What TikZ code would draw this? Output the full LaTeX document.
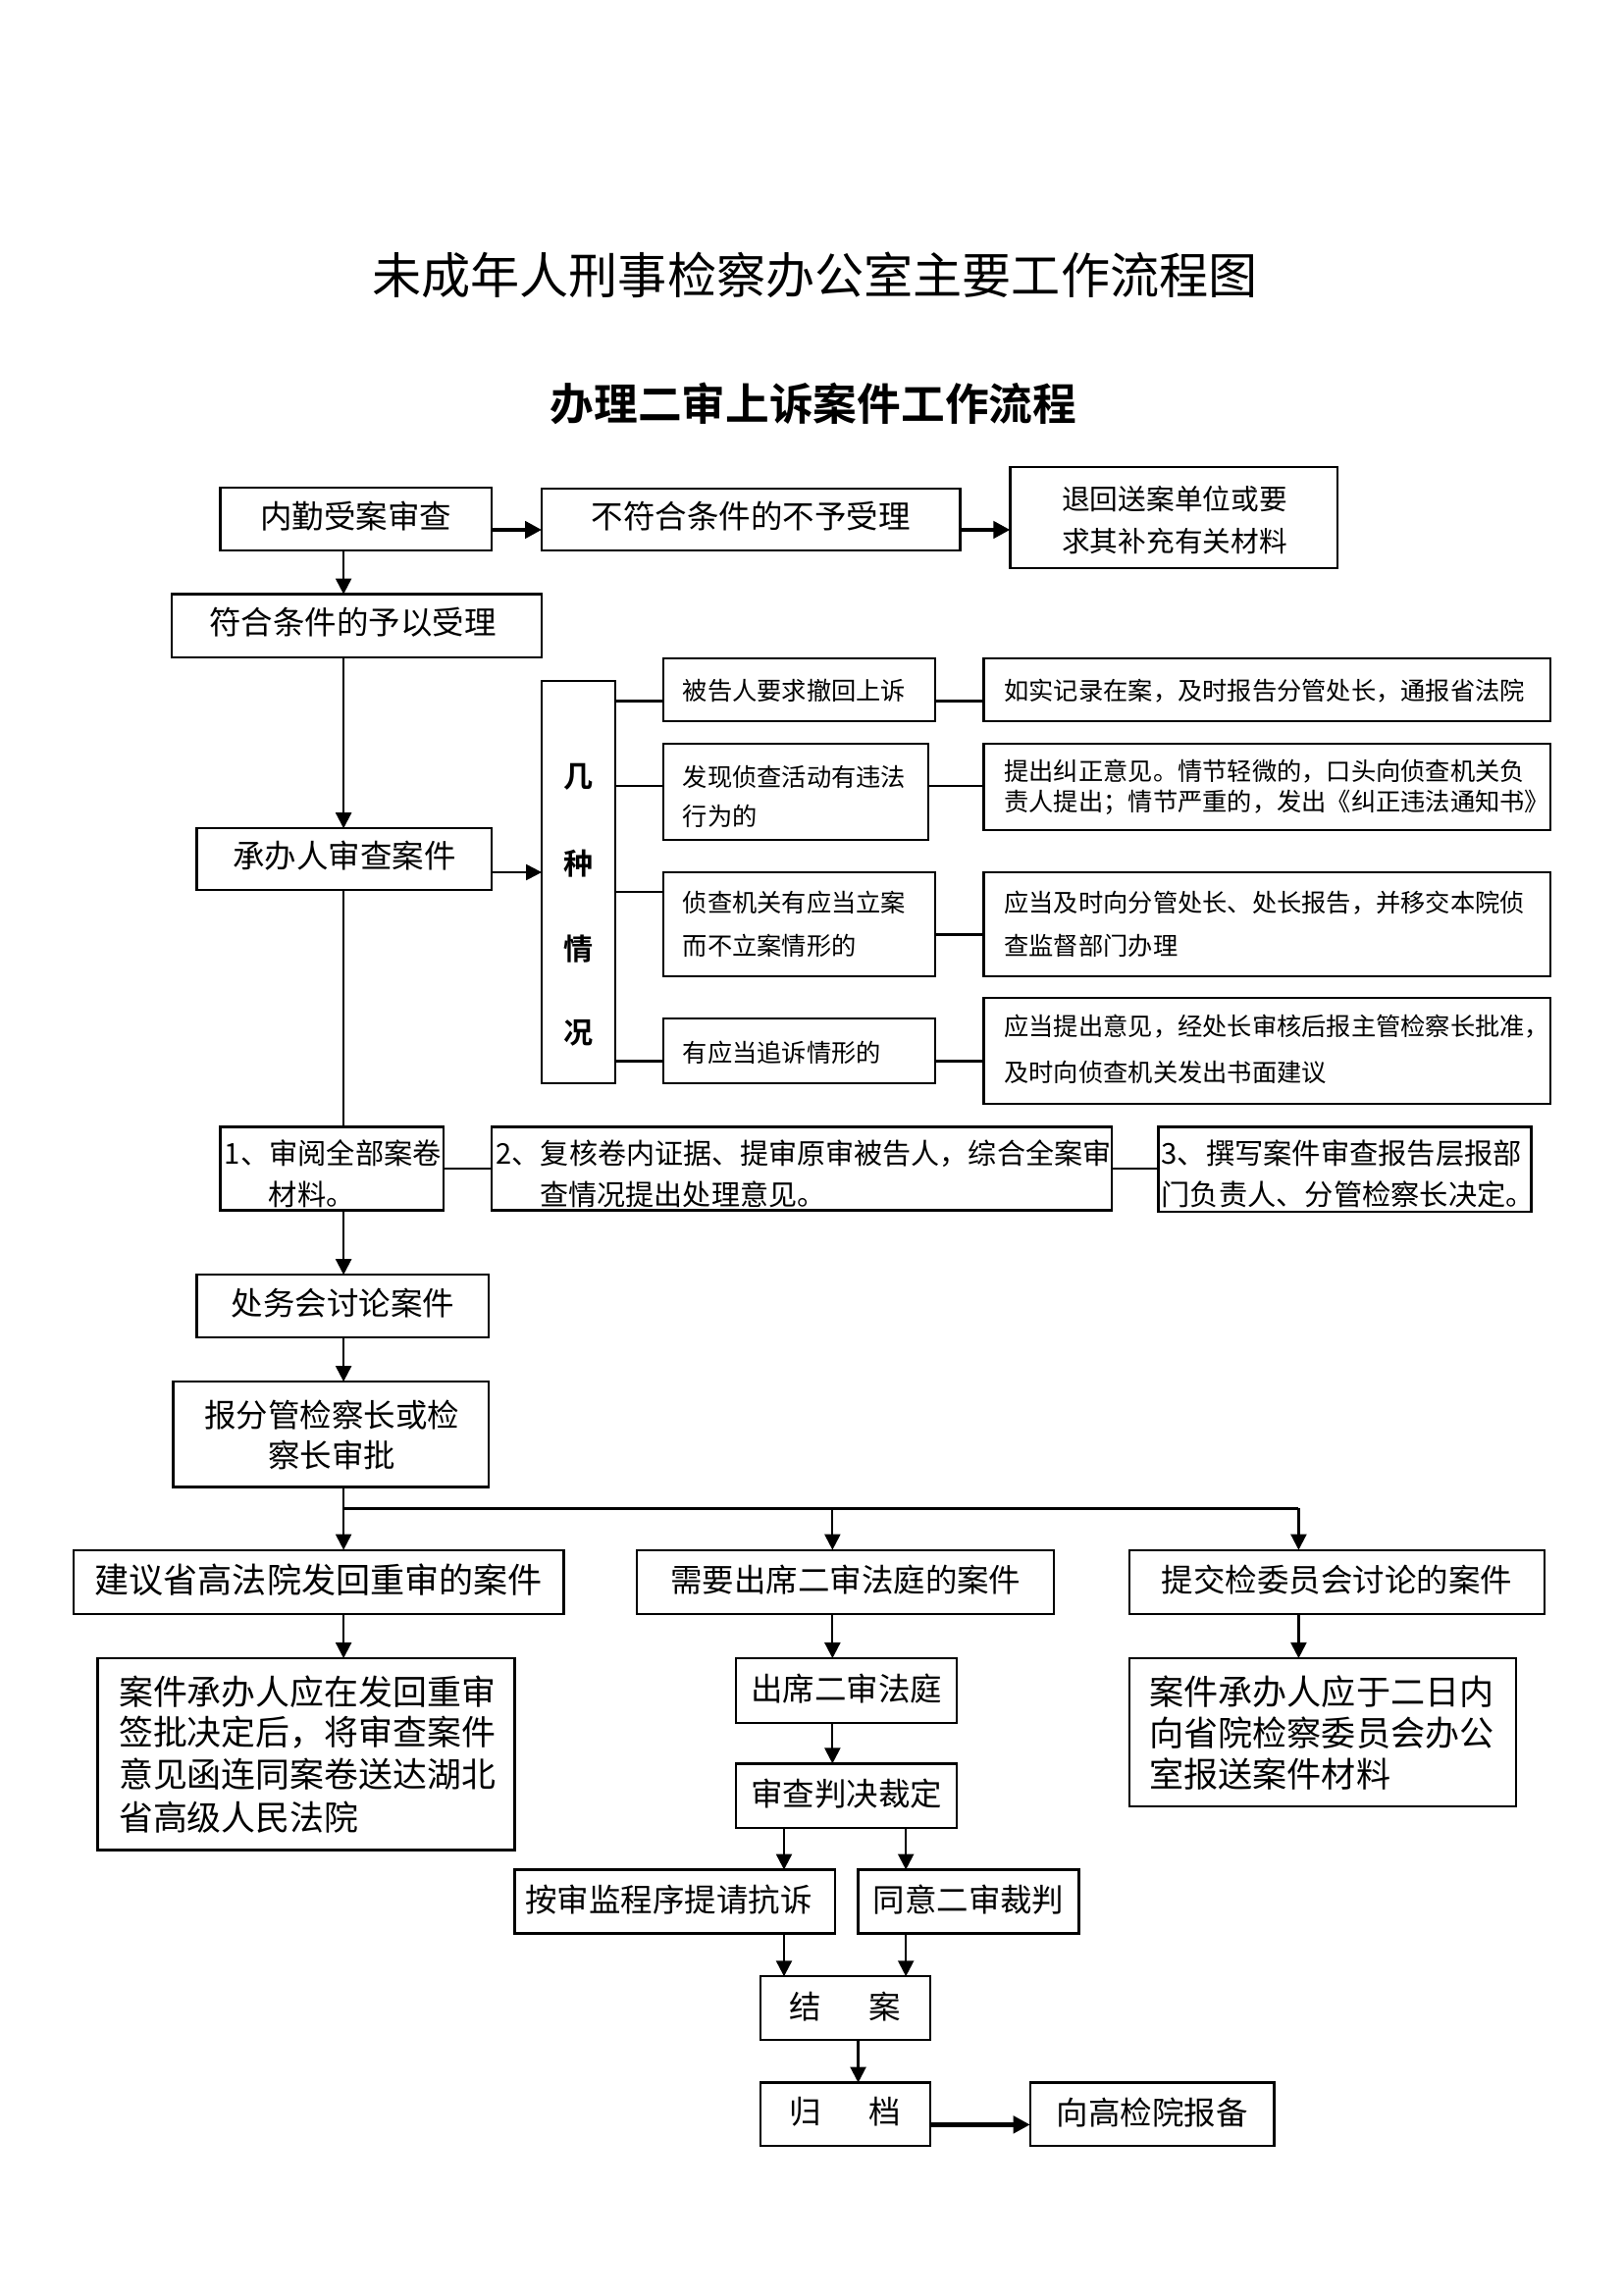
\documentclass[tikz,border=0pt]{standalone}
\usepackage{fontspec}
\setmainfont{Noto Sans CJK SC}[BoldFont={Noto Sans CJK SC Bold}]
\usetikzlibrary{arrows.meta,fit}
\newcommand\myfs[1]{\fontsize{#1}{#1}\selectfont}
\begin{document}
\begin{tikzpicture}[x=0.7463pt,y=-0.744pt,
  box/.style={draw,line width=1.1pt,inner sep=0pt,outer sep=0pt},
  tx/.style={inner sep=0pt,outer sep=0pt},
  lt/.style={tx,anchor=west},
  ln/.style={line width=1.1pt},
  tln/.style={line width=1.3pt},
  arr/.style={line width=1.1pt,-{Triangle[length=8pt,width=8pt]}},
  tarr/.style={line width=2.2pt,-{Triangle[length=8.5pt,width=8.5pt]}},
  f16/.style={font=\myfs{16.2}},
  fsm/.style={font=\myfs{12.6}}]
\useasboundingbox (0,0) rectangle (1105.5,1568.1);

% titles
\node[tx,font=\myfs{25}] (title) at (555,188) {未成年人刑事检察办公室主要工作流程图};
\node[tx,font=\bfseries\myfs{22.3}] (sub) at (554,276) {办理二审上诉案件工作流程};

% top part
\node[box,fit={(150,333)(335,376)}] (A) {};
\node[tx,f16] (At) at ([yshift=1.5pt]A.center) {内勤受案审查};
\node[box,fit={(369,334)(654,376)}] (B) {};
\node[tx,f16] (Bt) at ([yshift=1.5pt]B.center) {不符合条件的不予受理};
\node[box,fit={(688,319)(911,388)}] (C) {};
\node[tx,font=\myfs{14.3}] (C1) at (800,341) {退回送案单位或要};
\node[tx,font=\myfs{14.3}] (C2) at (800,370) {求其补充有关材料};
\node[box,fit={(117,406)(369,449)}] (D) {};
\node[tx,f16] (Dt) at ([yshift=1.5pt,xshift=-2pt]D.center) {符合条件的予以受理};
\node[box,fit={(134,566)(335,608)}] (E) {};
\node[tx,f16] (Et) at ([yshift=1.5pt]E.center) {承办人审查案件};

% several situations
\node[box,fit={(369,465)(419,740)}] (F) {};
\node[tx,font=\bfseries\myfs{15}] (F1) at (394,531) {几};
\node[tx,font=\bfseries\myfs{15}] (F2) at (394,590) {种};
\node[tx,font=\bfseries\myfs{15}] (F3) at (394,648) {情};
\node[tx,font=\bfseries\myfs{15}] (F4) at (394,706) {况};

\node[box,fit={(452,450)(637,493)}] (L1) {};
\node[lt,fsm] (L1a) at (465,472) {被告人要求撤回上诉};
\node[box,fit={(670,450)(1056,493)}] (R1) {};
\node[lt,fsm] (R1a) at (684,472) {如实记录在案，及时报告分管处长，通报省法院};

\node[box,fit={(452,508)(632,574)}] (L2) {};
\node[lt,fsm] (L2a) at (465,531) {发现侦查活动有违法};
\node[lt,fsm] (L2b) at (465,558) {行为的};
\node[box,fit={(670,508)(1056,567)}] (R2) {};
\node[lt,fsm] (R2a) at (684,527) {提出纠正意见。情节轻微的，口头向侦查机关负};
\node[lt,fsm] (R2b) at (684,548) {责人提出；情节严重的，发出《纠正违法通知书》};

\node[box,fit={(452,596)(637,667)}] (L3) {};
\node[lt,fsm] (L3a) at (465,617) {侦查机关有应当立案};
\node[lt,fsm] (L3b) at (465,646) {而不立案情形的};
\node[box,fit={(670,596)(1056,667)}] (R3) {};
\node[lt,fsm] (R3a) at (684,617) {应当及时向分管处长、处长报告，并移交本院侦};
\node[lt,fsm] (R3b) at (684,646) {查监督部门办理};

\node[box,fit={(452,696)(637,740)}] (L4) {};
\node[lt,fsm] (L4a) at (465,719) {有应当追诉情形的};
\node[box,fit={(670,682)(1056,754)}] (R4) {};
\node[lt,fsm] (R4a) at (684,701) {应当提出意见，经处长审核后报主管检察长批准，};
\node[lt,fsm] (R4b) at (684,733) {及时向侦查机关发出书面建议};

% three steps
\node[box,fit={(150,770)(302,827)}] (G1) {};
\node[lt,font=\myfs{14.6}] (G1a) at (153,788) {1、审阅全部案卷};
\node[lt,font=\myfs{14.6}] (G1b) at (183,816) {材料。};
\node[box,fit={(335,770)(757,827)}] (G2) {};
\node[lt,font=\myfs{14.5}] (G2a) at (338,788) {2、复核卷内证据、提审原审被告人，综合全案审};
\node[lt,font=\myfs{14.5}] (G2b) at (368,816) {查情况提出处理意见。};
\node[box,fit={(789,770)(1043,828)}] (G3) {};
\node[lt,font=\myfs{14.6}] (G3a) at (791,788) {3、撰写案件审查报告层报部};
\node[lt,font=\myfs{14.6}] (G3b) at (791,816) {门负责人、分管检察长决定。};

\node[box,fit={(134,871)(333,914)}] (H) {};
\node[tx,f16] (Ht) at ([yshift=1.5pt]H.center) {处务会讨论案件};
\node[box,fit={(118,944)(333,1016)}] (I) {};
\node[tx,f16] (I1) at (226,967) {报分管检察长或检};
\node[tx,f16] (I2) at (226,994) {察长审批};

% three branches
\node[box,fit={(50,1059)(384,1103)}] (J1) {};
\node[tx,font=\myfs{17.5}] (J1t) at ([yshift=1pt]J1.center) {建议省高法院发回重审的案件};
\node[box,fit={(434,1059)(718,1103)}] (J2) {};
\node[tx,f16] (J2t) at ([yshift=1pt]J2.center) {需要出席二审法庭的案件};
\node[box,fit={(769,1059)(1052,1103)}] (J3) {};
\node[tx,f16] (J3t) at ([yshift=1pt]J3.center) {提交检委员会讨论的案件};

\node[box,fit={(66.5,1133)(350.5,1264)}] (K1) {};
\node[lt,font=\myfs{17.4}] (K1a) at (81,1156) {案件承办人应在发回重审};
\node[lt,font=\myfs{17.4}] (K1b) at (81,1184) {签批决定后，将审查案件};
\node[lt,font=\myfs{17.4}] (K1c) at (81,1212) {意见函连同案卷送达湖北};
\node[lt,font=\myfs{17.4}] (K1d) at (81,1242) {省高级人民法院};

\node[box,fit={(501.4,1133)(651.7,1177)}] (K2) {};
\node[tx,f16] (K2t) at ([yshift=1pt]K2.center) {出席二审法庭};
\node[box,fit={(501.4,1205)(651.7,1249)}] (SC) {};
\node[tx,f16] (SCt) at ([yshift=1pt]SC.center) {审查判决裁定};
\node[box,fit={(350.5,1277.5)(568.6,1321)}] (M1) {};
\node[tx,f16] (M1t) at ([yshift=1pt,xshift=-3pt]M1.center) {按审监程序提请抗诉};
\node[box,fit={(584.5,1277.5)(734.8,1321)}] (M2) {};
\node[tx,f16] (M2t) at ([yshift=1pt]M2.center) {同意二审裁判};
\node[box,fit={(518,1350.4)(633.7,1394)}] (N) {};
\node[tx,f16] (Nt) at ([yshift=1pt]N.center) {结\hspace{1.5em}案};
\node[box,fit={(518,1423)(633.7,1466)}] (O) {};
\node[tx,f16] (Ot) at ([yshift=1pt]O.center) {归\hspace{1.5em}档};
\node[box,fit={(701.6,1423)(867.8,1466)}] (P) {};
\node[tx,f16] (Pt) at ([yshift=1pt]P.center) {向高检院报备};

\node[box,fit={(769.4,1133)(1032.7,1234.3)}] (K3) {};
\node[lt,font=\myfs{17.5}] (K3a) at (783,1156) {案件承办人应于二日内};
\node[lt,font=\myfs{17.5}] (K3b) at (783,1184) {向省院检察委员会办公};
\node[lt,font=\myfs{17.5}] (K3c) at (783,1212) {室报送案件材料};

% helper coordinates
\coordinate (yAB) at (0,362);
\coordinate (xs) at (234,0);
\coordinate (yEF) at (0,596);
\coordinate (r1) at (0,479);
\coordinate (r2) at (0,537);
\coordinate (r3a) at (0,609.5);
\coordinate (r3b) at (0,638.4);
\coordinate (r4) at (0,725);
\coordinate (yg) at (0,798.4);
\coordinate (jl) at (234,1030.6);
\coordinate (jm) at (567,1030.6);
\coordinate (jr) at (884.5,1030.6);
\coordinate (xa) at (534,0);
\coordinate (xb) at (617,0);
\coordinate (xn) at (584.5,0);
\coordinate (yOP) at (0,1451.7);

% connectors
\draw[tarr] (A.east |- yAB) -- (B.west |- yAB);
\draw[tarr] (B.east |- yAB) -- (C.west |- yAB);
\draw[arr] (A.south -| xs) -- (D.north -| xs);
\draw[arr] (D.south -| xs) -- (E.north -| xs);
\draw[arr] (E.east |- yEF) -- (F.west |- yEF);
\draw[ln] (E.south -| xs) -- (G1.north -| xs);

\draw[tln] (F.east |- r1) -- (L1.west |- r1);
\draw[tln] (F.east |- r2) -- (L2.west |- r2);
\draw[tln] (F.east |- r3a) -- (L3.west |- r3a);
\draw[tln] (F.east |- r4) -- (L4.west |- r4);
\draw[tln] (L1.east |- r1) -- (R1.west |- r1);
\draw[tln] (L2.east |- r2) -- (R2.west |- r2);
\draw[tln] (L3.east |- r3b) -- (R3.west |- r3b);
\draw[tln] (L4.east |- r4) -- (R4.west |- r4);

\draw[tln] (G1.east |- yg) -- (G2.west |- yg);
\draw[tln] (G2.east |- yg) -- (G3.west |- yg);
\draw[arr] (G1.south -| xs) -- (H.north -| xs);
\draw[arr] (H.south -| xs) -- (I.north -| xs);
\draw[arr] (I.south -| xs) -- (J1.north -| xs);
\draw[tln] (jl) -- (jr);
\draw[arr] (jm) -- (J2.north -| jm);
\draw[arr] (jr) -- (J3.north -| jr);

\draw[arr] (J1.south -| xs) -- (K1.north -| xs);
\draw[arr] (J2.south -| jm) -- (K2.north -| jm);
\draw[arr] (J3.south -| jr) -- (K3.north -| jr);
\draw[arr] (K2.south -| jm) -- (SC.north -| jm);
\draw[arr] (SC.south -| xa) -- (M1.north -| xa);
\draw[arr] (SC.south -| xb) -- (M2.north -| xb);
\draw[arr] (M1.south -| xa) -- (N.north -| xa);
\draw[arr] (M2.south -| xb) -- (N.north -| xb);
\draw[arr] (N.south -| xn) -- (O.north -| xn);
\draw[tarr] (O.east |- yOP) -- (P.west |- yOP);
\end{tikzpicture}
\end{document}
